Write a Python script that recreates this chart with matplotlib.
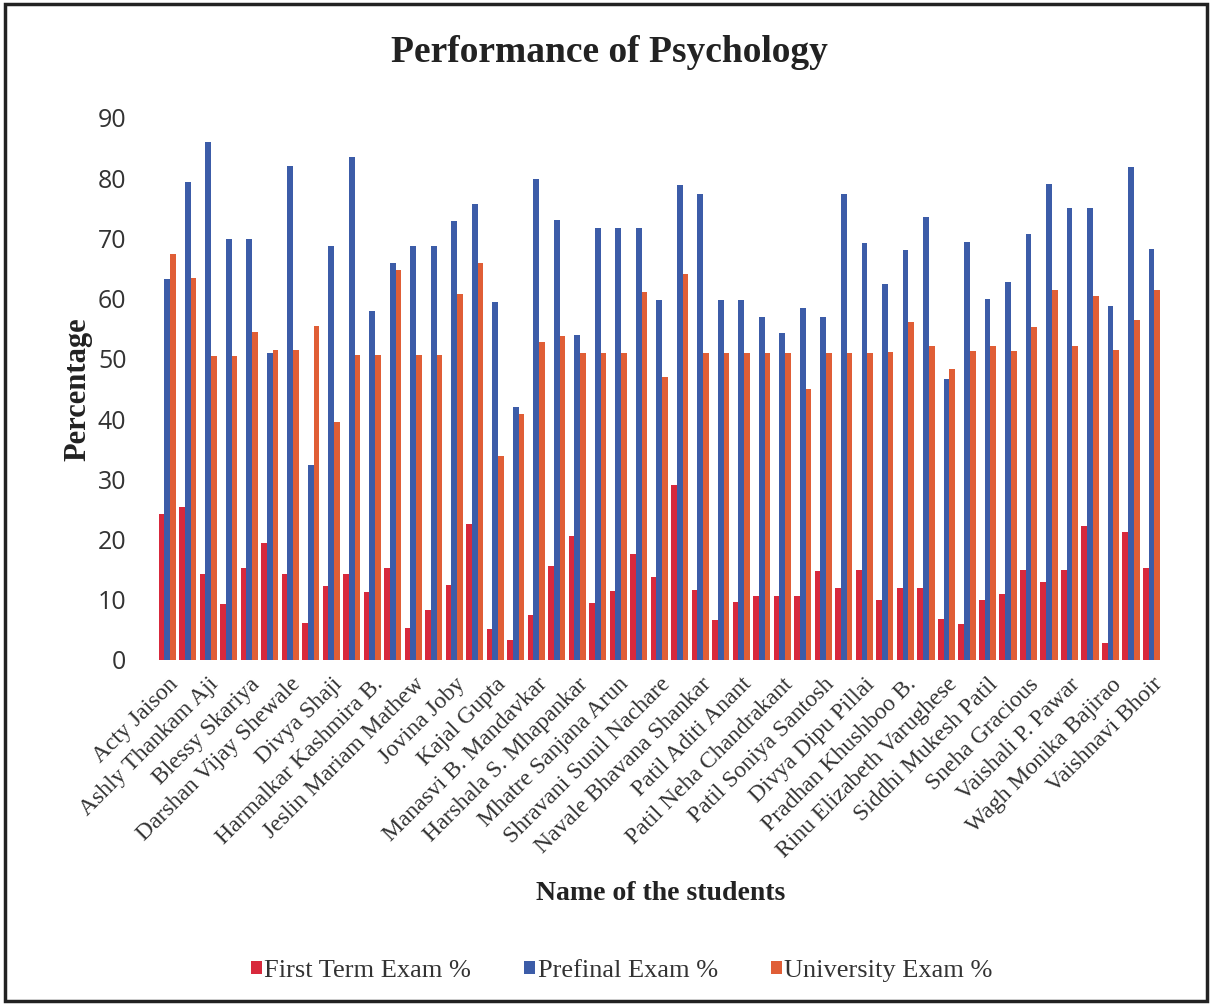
import numpy as np
import matplotlib
matplotlib.use("Agg")
import matplotlib.pyplot as plt
from matplotlib.patches import Rectangle

# Labelled students (Excel shows every second category label)
labelled_students = [
    "Acty Jaison", "Ashly Thankam Aji", "Blessy Skariya", "Darshan Vijay Shewale",
    "Divya Shaji", "Harmalkar Kashmira B.", "Jeslin Mariam Mathew", "Jovina Joby",
    "Kajal Gupta", "Manasvi B. Mandavkar", "Harshala S. Mhapankar", "Mhatre Sanjana Arun",
    "Shravani Sunil Nachare", "Navale Bhavana Shankar", "Patil Aditi Anant",
    "Patil Neha Chandrakant", "Patil Soniya Santosh", "Divya Dipu Pillai",
    "Pradhan Khushboo B.", "Rinu Elizabeth Varughese", "Siddhi Mukesh Patil",
    "Sneha Gracious", "Vaishali P. Pawar", "Wagh Monika Bajirao", "Vaishnavi Bhoir",
]

first_term = [24.3, 25.4, 14.2, 9.3, 15.2, 19.4, 14.3, 6.1, 12.3, 14.3,
              11.3, 15.2, 5.3, 8.3, 12.4, 22.5, 5.2, 3.3, 7.4, 15.6,
              20.6, 9.5, 11.5, 17.6, 13.7, 29.0, 11.7, 6.7, 9.7, 10.7,
              10.7, 10.7, 14.7, 11.9, 14.9, 9.9, 12.0, 12.0, 6.8, 6.0,
              10.0, 11.0, 15.0, 13.0, 15.0, 22.2, 2.9, 21.2, 15.2]
prefinal = [63.2, 79.3, 86.0, 69.9, 69.9, 51.0, 82.1, 32.4, 68.7, 83.6,
            58.0, 66.0, 68.8, 68.8, 72.9, 75.7, 59.4, 42.0, 79.8, 73.0,
            54.0, 71.7, 71.7, 71.7, 59.7, 78.8, 77.3, 59.7, 59.7, 57.0,
            54.3, 58.4, 57.0, 77.3, 69.3, 62.5, 68.0, 73.5, 46.7, 69.4,
            60.0, 62.7, 70.7, 79.1, 75.0, 75.0, 58.7, 81.8, 68.2]
university = [67.4, 63.4, 50.5, 50.5, 54.4, 51.4, 51.4, 55.5, 39.6, 50.6,
              50.6, 64.7, 50.6, 50.6, 60.8, 66.0, 33.8, 40.8, 52.8, 53.8,
              50.9, 50.9, 50.9, 61.1, 47.0, 64.1, 51.0, 51.0, 51.0, 51.0,
              51.0, 45.0, 51.0, 51.0, 51.0, 51.2, 56.2, 52.2, 48.3, 51.3,
              52.2, 51.3, 55.3, 61.4, 52.2, 60.4, 51.4, 56.5, 61.5]

series_names = ["First Term Exam %", "Prefinal Exam %", "University Exam %"]
colors = ["#D8293C", "#3C5CA8", "#E05E36"]

serif = ["Liberation Serif", "DejaVu Serif"]

fig = plt.figure(figsize=(12.12, 10.05), dpi=100)
ax = fig.add_axes([0.1295, 0.3433, 0.829, 0.5393])

n = len(prefinal)
x = np.arange(n)
w = 0.28
for i, (vals, name, c) in enumerate(zip([first_term, prefinal, university], series_names, colors)):
    ax.bar(x + (i - 1) * w, vals, width=w, color=c, label=name, linewidth=0)

ax.set_xlim(-0.5, n - 0.5)
ax.set_ylim(0, 90)
ax.set_yticks(np.arange(0, 91, 10))
ax.tick_params(axis="y", length=0, labelsize=18, pad=22, labelcolor="#333333")
for lab in ax.get_yticklabels():
    lab.set_family(["Open Sans", "DejaVu Sans"])

ticks = np.arange(0, n, 2)
ax.set_xticks(ticks)
ax.set_xticklabels(labelled_students, rotation=45, ha="right", rotation_mode="anchor",
                   fontsize=17, family=serif, color="#333333")
ax.tick_params(axis="x", length=0, pad=10)

for s in ax.spines.values():
    s.set_visible(False)

fig.text(0.503, 0.948, "Performance of Psychology", ha="center", va="center",
         fontsize=27, fontweight="bold", family=serif, color="#222222")
ax.set_ylabel("Percentage", fontsize=22, fontweight="bold", family=serif, color="#222222",
              labelpad=4)
fig.text(0.545, 0.111, "Name of the students", ha="center", va="center",
         fontsize=20, fontweight="bold", family=serif, color="#222222")

leg = fig.legend(loc="center", bbox_to_anchor=(0.513, 0.034), ncol=3, frameon=False,
                 prop={"family": serif, "size": 19}, handlelength=0.42, handleheight=0.42,
                 handletextpad=0.1, columnspacing=2.0)
for t in leg.get_texts():
    t.set_color("#333333")

fig.patches.append(Rectangle((0.004, 0.004), 0.992, 0.992, transform=fig.transFigure,
                             fill=False, edgecolor="#222222", linewidth=2.5))

fig.savefig("out.png", dpi=100, facecolor="white")
